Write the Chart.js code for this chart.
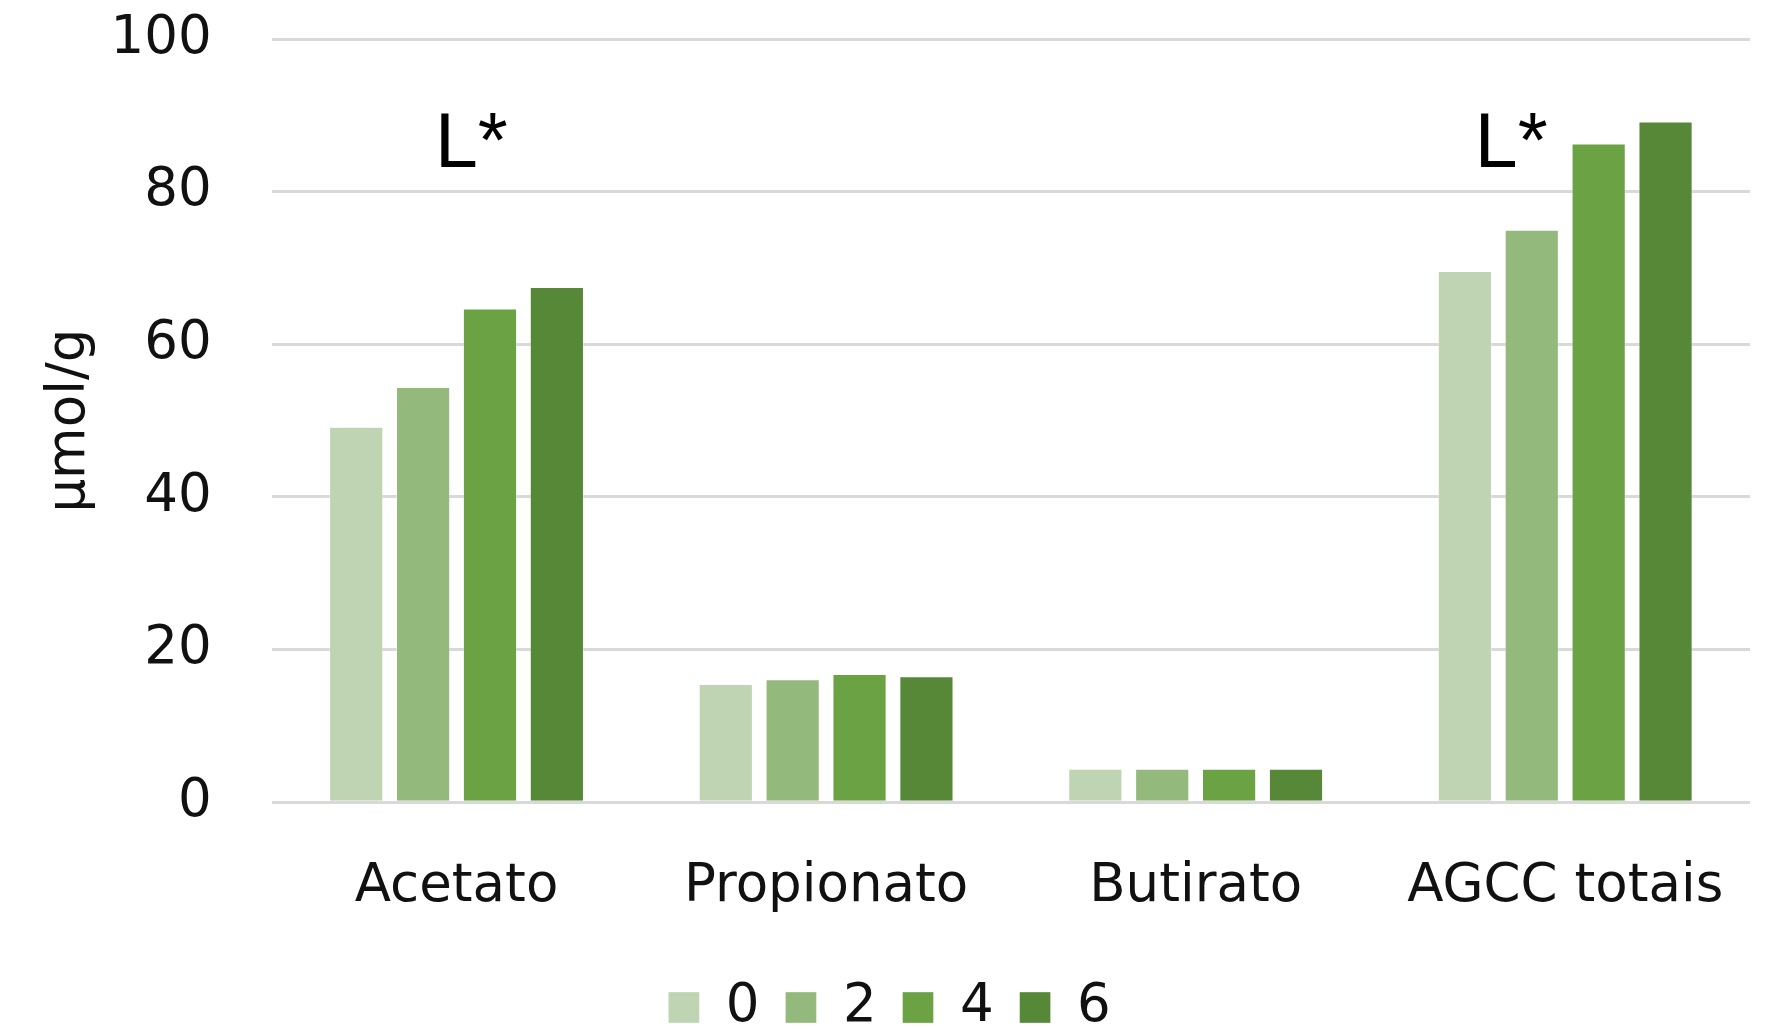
<!DOCTYPE html>
<html>
<head>
<meta charset="utf-8">
<script src="https://cdn.jsdelivr.net/npm/chart.js@4"></script>
<style>
  html, body { margin: 0; padding: 0; background: #fff; }
  #wrap { width: 1765px; height: 1031px; }
</style>
</head>
<body>
<div id="wrap"><canvas id="chart"></canvas></div>
<script>
const categories = ["Acetato", "Propionato", "Butirato", "AGCC totais"];
const seriesNames = ["0", "2", "4", "6"];
const values0 = [49.2, 15.5, 4.4, 69.6];
const values2 = [54.4, 16.1, 4.4, 75.0];
const values4 = [64.7, 16.8, 4.4, 86.3];
const values6 = [67.5, 16.5, 4.4, 89.2];
const colors = ["#bed4b2", "#93ba7c", "#6aa244", "#578838"];
const yTicks = [0, 20, 40, 60, 80, 100];

// significance marks: category, offset in category units, value
const marks = [
  { cat: 0, off: 0.04, y: 86, text: "L*" },
  { cat: 3, off: -0.146, y: 86, text: "L*" }
];

Chart.defaults.font.family = "DejaVu Sans";
Chart.defaults.color = "#111";

const marksPlugin = {
  id: "marks",
  afterDatasetsDraw(chart) {
    const { ctx, scales } = chart;
    ctx.save();
    ctx.font = "77px 'Liberation Sans'";
    ctx.fillStyle = "#000";
    ctx.textAlign = "center";
    ctx.textBaseline = "middle";
    marks.forEach(m => {
      const x = scales.x.getPixelForValue(m.cat) + m.off * (scales.x.width / categories.length);
      ctx.fillText(m.text, x, scales.y.getPixelForValue(m.y));
    });
    ctx.restore();
  }
};

// stop tick padding from eating the chart area edges
function noOverhang(s) {
  s.paddingTop = 0;
  s.paddingBottom = 0;
  s.paddingLeft = 0;
  s.paddingRight = 0;
}

const series = [values0, values2, values4, values6];

new Chart(document.getElementById("chart"), {
  type: "bar",
  data: {
    labels: categories,
    datasets: series.map((v, i) => ({
      label: seriesNames[i],
      data: v,
      backgroundColor: colors[i],
      borderColor: "rgba(255,255,255,0.35)",
      borderWidth: 1,
      categoryPercentage: 0.724,
      barPercentage: 0.81
    }))
  },
  options: {
    responsive: true,
    maintainAspectRatio: false,
    animation: false,
    layout: { autoPadding: false, padding: { left: 38, right: 15, top: 39, bottom: -13 } },
    plugins: {
      legend: {
        position: "bottom",
        labels: {
          boxWidth: 31,
          boxHeight: 31,
          padding: 17,
          font: { size: 53 },
          // a small trailing space keeps the item spacing with the tighter padding
          generateLabels: c => Chart.defaults.plugins.legend.labels.generateLabels(c)
            .map(l => Object.assign(l, { text: l.text + "\u2006" }))
        }
      },
      tooltip: { enabled: false }
    },
    scales: {
      x: {
        afterFit: noOverhang,
        grid: { display: false },
        border: { display: false },
        ticks: { font: { size: 53, lineHeight: 0.26 }, padding: 70 }
      },
      y: {
        min: 0,
        max: 100,
        afterFit: noOverhang,
        afterBuildTicks: s => { s.ticks = yTicks.map(v => ({ value: v })); },
        grid: { color: "#d9d9d9", lineWidth: 3, drawTicks: false },
        border: { display: false },
        ticks: { font: { size: 53 }, padding: 60 },
        title: {
          display: true,
          text: "µmol/g",
          font: { size: 53 },
          padding: { top: 0, bottom: -51 }
        }
      }
    }
  },
  plugins: [marksPlugin]
});
</script>
</body>
</html>
